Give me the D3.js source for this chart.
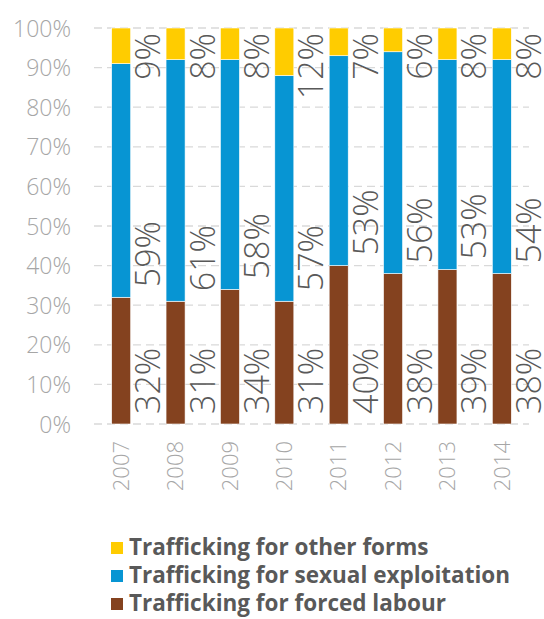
<!DOCTYPE html>
<html><head><meta charset="utf-8">
<script src="https://cdn.jsdelivr.net/npm/d3@7"></script>
<style>body{margin:0;background:#fff}svg{display:block}</style>
</head><body>
<script>
const years = ["2007","2008","2009","2010","2011","2012","2013","2014"];
const forcedLabour = [32,31,34,31,40,38,39,38];
const sexualExploitation = [59,61,58,57,53,56,53,54];
const otherForms = [9,8,8,12,7,6,8,8];
const seriesKeys = ["forced","sexual","other"];
const seriesNames = ["Trafficking for forced labour","Trafficking for sexual exploitation","Trafficking for other forms"];
const seriesColors = ["#84421f","#0795d3","#ffcc00"];
const yTicks = [0,10,20,30,40,50,60,70,80,90,100];

const W = 544, H = 619;
const svg = d3.select("body").append("svg").attr("width", W).attr("height", H);

const table = years.map((y, i) => ({year: y, forced: forcedLabour[i], sexual: sexualExploitation[i], other: otherForms[i]}));
const stacked = d3.stack().keys(seriesKeys)(table);

const x = d3.scaleBand().domain(years).range([94, 529]).paddingInner(0.65).paddingOuter(0.325);
const y = d3.scaleLinear().domain([0, 100]).range([424, 28]);

const font = "'Open Sans', 'Segoe UI', sans-serif";

// grid
svg.append("g").selectAll("line").data(yTicks).join("line")
  .attr("x1", 94).attr("x2", 529)
  .attr("y1", d => y(d)).attr("y2", d => y(d))
  .attr("stroke", "#d9d9d9").attr("stroke-width", 1.3).attr("stroke-dasharray", "8,5");

// y axis labels
const yAxis = d3.axisLeft(y).tickValues(yTicks).tickFormat(d => d + "%").tickSize(0).tickPadding(0);
const yg = svg.append("g").attr("transform", "translate(71,0)").call(yAxis);
yg.select(".domain").remove();
yg.selectAll("text").attr("font-family", font).attr("font-weight", 300).attr("font-size", 23).attr("fill", "#a6a6a6").attr("dy", "0.35em");

// x axis labels
const xAxis = d3.axisBottom(x).tickSize(0).tickPadding(0);
const xg = svg.append("g").call(xAxis);
xg.select(".domain").remove();
xg.selectAll(".tick").attr("transform", d => `translate(${x(d) + x.bandwidth()/2},441)`);
xg.selectAll("text").attr("transform", "rotate(-90)").attr("text-anchor", "end")
  .attr("x", 0).attr("y", 0).attr("dy", "0.35em")
  .attr("font-family", font).attr("font-weight", 300).attr("font-size", 22).attr("fill", "#a6a6a6");

// bars
const groups = svg.append("g").selectAll("g").data(stacked).join("g")
  .attr("fill", (d, i) => seriesColors[i]);
groups.selectAll("rect").data(d => d).join("rect")
  .attr("x", d => x(d.data.year))
  .attr("width", x.bandwidth())
  .attr("y", d => y(d[1]))
  .attr("height", d => y(d[0]) - y(d[1]))
  .attr("stroke", "#ffffff").attr("stroke-width", 0.6);

// data labels
const lbl = svg.append("g");
stacked.forEach((s, si) => {
  s.forEach(d => {
    const val = d[1] - d[0];
    const cx = x(d.data.year) + x.bandwidth() + 29.5;
    const t = lbl.append("text")
      .attr("font-family", font).attr("font-weight", 300).attr("font-size", 34)
      .attr("fill", "#595959").attr("text-anchor", "start")
      .text(val + "%");
    const len = t.node().getComputedTextLength();
    let y0 = y(d[0]) - 10;
    if (y0 - len < 33) y0 = 33 + len;
    t.attr("transform", `translate(${cx},${y0}) rotate(-90)`);
  });
});

// legend
const legendOrder = [2, 1, 0];
const lg = svg.append("g").selectAll("g").data(legendOrder).join("g")
  .attr("transform", (d, i) => `translate(111,${555 + i * 28})`);
lg.append("rect").attr("x", 0).attr("y", -13).attr("width", 12).attr("height", 12)
  .attr("fill", d => seriesColors[d]);
lg.append("text").attr("x", 18).attr("y", 0)
  .attr("font-family", font).attr("font-weight", 700).attr("font-size", 22.5).attr("fill", "#595959")
  .text(d => seriesNames[d]);
</script>
</body></html>
